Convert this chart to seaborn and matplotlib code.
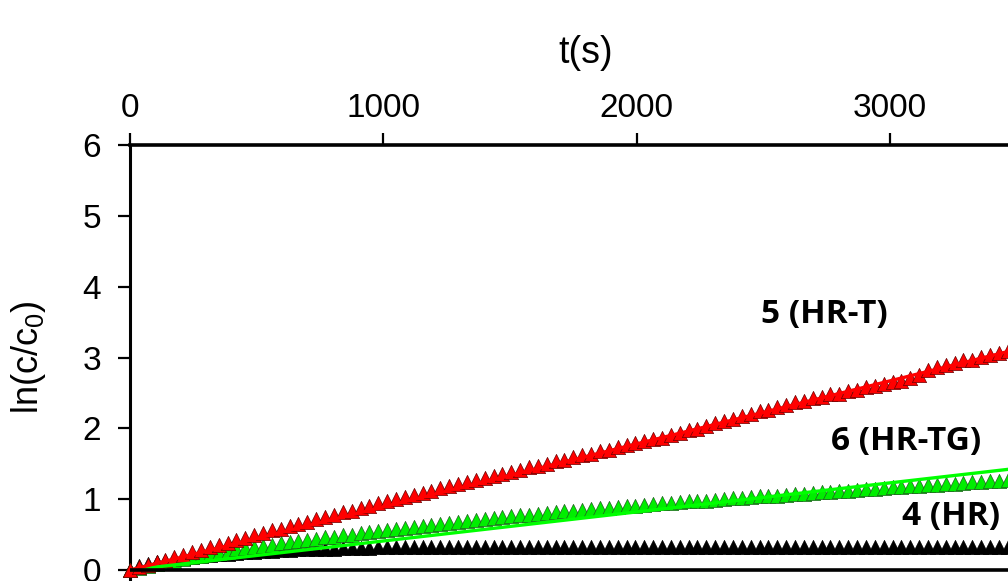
import matplotlib
matplotlib.use("Agg")
import matplotlib.pyplot as plt
import seaborn as sns
import numpy as np
import pandas as pd

# ---- data ----
t_s = [0, 35, 70, 105, 140, 175, 210, 245, 280, 315, 350, 385, 420, 455, 490,
       525, 560, 595, 630, 665, 700, 735, 770, 805, 840, 875, 910, 945, 980, 1015,
       1050, 1085, 1120, 1155, 1190, 1225, 1260, 1295, 1330, 1365, 1400, 1435, 1470,
       1505, 1540, 1575, 1610, 1645, 1680, 1715, 1750, 1785, 1820, 1855, 1890, 1925,
       1960, 1995, 2030, 2065, 2100, 2135, 2170, 2205, 2240, 2275, 2310, 2345, 2380,
       2415, 2450, 2485, 2520, 2555, 2590, 2625, 2660, 2695, 2730, 2765, 2800, 2835,
       2870, 2905, 2940, 2975, 3010, 3045, 3080, 3115, 3150, 3185, 3220, 3255, 3290,
       3325, 3360, 3395, 3430, 3465]

hr_t = [0.00, 0.04, 0.07, 0.11, 0.14, 0.18, 0.21, 0.25, 0.28, 0.32, 0.35, 0.38, 0.42,
        0.45, 0.49, 0.52, 0.56, 0.58, 0.62, 0.65, 0.68, 0.72, 0.75, 0.78, 0.82, 0.84,
        0.88, 0.91, 0.94, 0.97, 1.00, 1.03, 1.06, 1.09, 1.12, 1.16, 1.18, 1.21, 1.24,
        1.27, 1.30, 1.33, 1.36, 1.39, 1.41, 1.45, 1.47, 1.50, 1.54, 1.56, 1.59, 1.62,
        1.64, 1.68, 1.70, 1.73, 1.76, 1.79, 1.82, 1.85, 1.87, 1.91, 1.93, 1.97, 1.99,
        2.03, 2.07, 2.11, 2.13, 2.17, 2.20, 2.24, 2.26, 2.30, 2.33, 2.37, 2.39, 2.43,
        2.44, 2.48, 2.49, 2.53, 2.54, 2.59, 2.60, 2.62, 2.66, 2.67, 2.71, 2.76, 2.83,
        2.87, 2.90, 2.92, 2.96, 2.97, 3.01, 3.03, 3.07, 3.09]

hr_tg = [0.00, 0.03, 0.05, 0.08, 0.10, 0.13, 0.15, 0.18, 0.20, 0.22, 0.24, 0.26, 0.29,
         0.31, 0.33, 0.34, 0.36, 0.38, 0.39, 0.41, 0.43, 0.44, 0.46, 0.47, 0.49, 0.50,
         0.52, 0.53, 0.55, 0.56, 0.58, 0.59, 0.61, 0.62, 0.63, 0.65, 0.66, 0.68, 0.69,
         0.71, 0.72, 0.73, 0.75, 0.76, 0.77, 0.78, 0.79, 0.80, 0.82, 0.83, 0.84, 0.85,
         0.86, 0.87, 0.88, 0.89, 0.90, 0.91, 0.92, 0.93, 0.94, 0.95, 0.96, 0.97, 0.98,
         0.98, 0.99, 1.00, 1.01, 1.02, 1.03, 1.04, 1.04, 1.05, 1.06, 1.07, 1.08, 1.09,
         1.10, 1.10, 1.11, 1.12, 1.13, 1.14, 1.15, 1.16, 1.17, 1.17, 1.18, 1.19, 1.20,
         1.20, 1.21, 1.22, 1.23, 1.24, 1.24, 1.25, 1.26, 1.27]

hr = [0.00, 0.06, 0.09, 0.11, 0.13, 0.15, 0.17, 0.18, 0.20, 0.21, 0.22, 0.23, 0.24,
      0.25, 0.26, 0.27, 0.27, 0.28, 0.28, 0.29, 0.29, 0.30, 0.30, 0.30, 0.31, 0.31,
      0.31, 0.31, 0.32, 0.32, 0.32, 0.33, 0.32, 0.33, 0.33, 0.32, 0.33, 0.33, 0.33,
      0.32, 0.33, 0.33, 0.33, 0.33, 0.32, 0.33, 0.33, 0.33, 0.32, 0.33, 0.33, 0.33,
      0.33, 0.32, 0.33, 0.33, 0.32, 0.33, 0.33, 0.33, 0.32, 0.33, 0.33, 0.32, 0.33,
      0.33, 0.33, 0.32, 0.33, 0.32, 0.33, 0.33, 0.32, 0.33, 0.33, 0.32, 0.33, 0.32,
      0.33, 0.33, 0.32, 0.33, 0.32, 0.33, 0.33, 0.32, 0.33, 0.32, 0.33, 0.32, 0.33,
      0.32, 0.33, 0.33, 0.32, 0.33, 0.32, 0.33, 0.32, 0.33]

fit_slope_hr_t = 0.00089    # linear fit through origin, series 5
fit_slope_hr_tg = 0.00041   # linear fit through origin, series 6

labels = ["5 (HR-T)", "6 (HR-TG)", "4 (HR)"]
label_t = [2740, 3064, 3241]
label_y = [3.60, 1.81, 0.76]

x_ticks = [0, 1000, 2000, 3000]
y_ticks = [0, 1, 2, 3, 4, 5, 6]

# ---- style ----
sns.set_theme(style="white")
plt.rcParams["font.family"] = ["Liberation Sans", "DejaVu Sans"]
plt.rcParams["mathtext.fontset"] = "custom"
plt.rcParams["mathtext.rm"] = "Liberation Sans"
plt.rcParams["mathtext.it"] = "Liberation Sans:italic"
for key in ["text.color", "axes.labelcolor", "xtick.color", "ytick.color",
            "xtick.labelcolor", "ytick.labelcolor"]:
    plt.rcParams[key] = "black"

W, H = 1008, 581
fig = plt.figure(figsize=(W / 100, H / 100), dpi=100)
fig.patch.set_facecolor("white")
x_px0, x_px_end = 130, 1042      # x=0 and x=3600
y_px_top = 145                    # y=6
ax = fig.add_axes([x_px0 / W, 0, (x_px_end - x_px0) / W, (H - y_px_top) / H])
ax.set_facecolor("white")

df = pd.DataFrame({"t": t_s, "hr": hr, "hr_tg": hr_tg, "hr_t": hr_t})

sns.scatterplot(data=df, x="t", y="hr", marker="^", s=105, color="black",
                edgecolor="black", linewidth=0.5, ax=ax, zorder=3, clip_on=False)
sns.scatterplot(data=df, x="t", y="hr_tg", marker="^", s=105, color="#00ee00",
                edgecolor="#1f5f1f", linewidth=0.5, ax=ax, zorder=4, clip_on=False)
sns.scatterplot(data=df, x="t", y="hr_t", marker="^", s=105, color="#ff0000",
                edgecolor="#6a0000", linewidth=0.5, ax=ax, zorder=5, clip_on=False)

line_t = np.array([0.0, 3600.0])
sns.lineplot(x=line_t, y=fit_slope_hr_tg * line_t, color="#00ff00", lw=2.4, ax=ax, zorder=6)
sns.lineplot(x=line_t, y=fit_slope_hr_t * line_t, color="#ff0000", lw=2.4, ax=ax, zorder=6)

ax.axhline(0, color="black", lw=2.6, zorder=7)

ax.set_xlim(0, 3600)
ax.set_ylim(-11 / ((H - y_px_top - 11) / 6), 6)
ax.set_xticks(x_ticks)
ax.set_yticks(y_ticks)

ax.xaxis.tick_top()
ax.xaxis.set_label_position("top")
ax.tick_params(axis="x", which="both", top=True, bottom=False, direction="out",
               length=9, width=1.6, color="black", labelsize=24, pad=6)
ax.tick_params(axis="y", which="both", left=True, right=False, direction="out",
               length=9, width=1.6, color="black", labelsize=24, pad=12)

for side in ["right", "bottom"]:
    ax.spines[side].set_visible(False)
ax.spines["top"].set_linewidth(2.6)
ax.spines["left"].set_linewidth(2.2)
ax.spines["top"].set_color("black")
ax.spines["left"].set_color("black")

ax.set_xlabel("t(s)", fontsize=27, labelpad=22)
ax.set_ylabel("ln(c/c$_0$)", fontsize=26)
ax.yaxis.set_label_coords(-0.09, (H - 357) / (H - y_px_top))

for lab, tx, ty in zip(labels, label_t, label_y):
    ax.text(tx, ty, lab, ha="center", va="center", fontsize=24, fontweight="bold",
            family=["Open Sans", "DejaVu Sans"], color="black", zorder=8)

fig.savefig("out.png", dpi=100)
